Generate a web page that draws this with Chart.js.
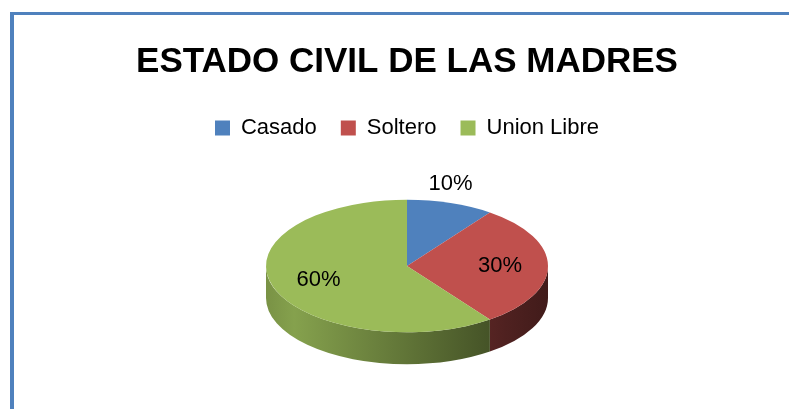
<!DOCTYPE html>
<html>
<head>
<meta charset="utf-8">
<script src="https://cdn.jsdelivr.net/npm/chart.js@4.4.0/dist/chart.umd.min.js"></script>
<style>
  html, body { margin: 0; padding: 0; background: #fff; }
  #wrap { position: relative; width: 789px; height: 409px; overflow: hidden; }
  #frame {
    position: absolute; left: 10px; top: 12px; right: -10px; bottom: -10px;
    border-left: 4px solid #4f81bd; border-top: 3px solid #4f81bd;
    pointer-events: none;
  }
</style>
</head>
<body>
<div id="wrap">
  <canvas id="chart" width="789" height="409"></canvas>
  <div id="frame"></div>
</div>
<script>
// Data
const labels = ['Casado', 'Soltero', 'Union Libre'];
const values = [10, 30, 60];
const colors = ['#4f81bd', '#c0504d', '#9bbb59'];

// 3D look
const TILT = 0.47;   // vertical squash of the pie top
const DEPTH = 32;    // side thickness, px
const FONT = "'Liberation Sans', Arial, sans-serif";

function shade(hex, f) {
  const n = parseInt(hex.slice(1), 16);
  const r = Math.round(((n >> 16) & 255) * f);
  const g = Math.round(((n >> 8) & 255) * f);
  const b = Math.round((n & 255) * f);
  return `rgb(${r},${g},${b})`;
}

// Fakes the Excel 3D pie: draws the side walls, then squashes the arcs
const pie3d = {
  id: 'pie3d',
  beforeDatasetsDraw(chart) {
    const ctx = chart.ctx;
    const arcs = chart.getDatasetMeta(0).data;
    if (!arcs.length) return;
    const { x: cx, y: cy, outerRadius: r } = arcs[0];
    const ry = r * TILT;

    arcs.forEach((arc, i) => {
      const a0 = Math.max(arc.startAngle, 0);
      const a1 = Math.min(arc.endAngle, Math.PI);
      if (a1 <= a0) return;
      const g = ctx.createLinearGradient(cx - r, 0, cx + r, 0);
      g.addColorStop(0, shade(colors[i], 0.78));
      g.addColorStop(0.1, shade(colors[i], 0.86));
      g.addColorStop(0.85, shade(colors[i], 0.41));
      g.addColorStop(1, shade(colors[i], 0.34));
      ctx.save();
      ctx.beginPath();
      ctx.ellipse(cx, cy, r, ry, 0, a0, a1);
      ctx.ellipse(cx, cy + DEPTH, r, ry, 0, a1, a0, true);
      ctx.closePath();
      ctx.fillStyle = g;
      ctx.fill();
      ctx.restore();
    });

    ctx.save();
    ctx.translate(cx, cy);
    ctx.scale(1, TILT);
    ctx.translate(-cx, -cy);
  },
  afterDatasetsDraw(chart) {
    const ctx = chart.ctx;
    ctx.restore();

    const arcs = chart.getDatasetMeta(0).data;
    const total = values.reduce((s, v) => s + v, 0);
    ctx.save();
    ctx.font = `22px ${FONT}`;
    ctx.fillStyle = '#000';
    ctx.textAlign = 'center';
    ctx.textBaseline = 'middle';
    arcs.forEach((arc, i) => {
      const share = values[i] / total;
      const mid = (arc.startAngle + arc.endAngle) / 2;
      const cos = Math.cos(mid), sin = Math.sin(mid);
      let x, y;
      if (share < 0.15) {
        // small slice: label sits outside, just above the rim
        x = arc.x + arc.outerRadius * cos;
        y = arc.y + arc.outerRadius * TILT * sin + 20 * sin;
      } else {
        x = arc.x + arc.outerRadius * 0.66 * cos;
        y = arc.y + arc.outerRadius * 0.66 * TILT * sin;
      }
      ctx.fillText(Math.round(share * 100) + '%', x, y);
    });
    ctx.restore();
  }
};

new Chart(document.getElementById('chart'), {
  type: 'pie',
  data: {
    labels,
    datasets: [{
      data: values,
      backgroundColor: colors,
      borderWidth: 0,
      clip: false,
      radius: 141,
    }],
  },
  options: {
    responsive: false,
    animation: false,
    layout: { padding: { top: 41, left: 25, right: 0, bottom: 26 } },
    plugins: {
      title: {
        display: true,
        text: 'ESTADO CIVIL DE LAS MADRES',
        color: '#000',
        font: { family: FONT, size: 35, weight: 'bold' },
        padding: { top: 0, bottom: 10 },
      },
      legend: {
        position: 'top',
        labels: {
          color: '#000',
          font: { family: FONT, size: 22 },
          boxWidth: 15,
          boxHeight: 15,
          padding: 24,
        },
      },
      tooltip: { enabled: false },
    },
  },
  plugins: [pie3d],
});
</script>
</body>
</html>
